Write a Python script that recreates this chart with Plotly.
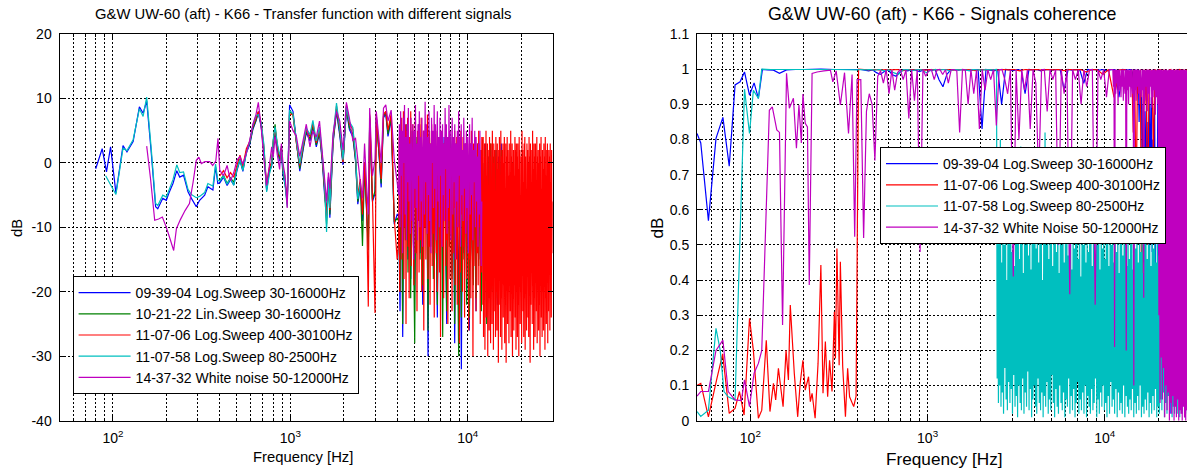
import numpy as np
import plotly.graph_objects as go

# ---------------- transfer function (left) ----------------
f_blue_lo = [80, 87, 92, 97, 104, 114, 120, 130, 141, 148, 155, 164, 174, 179, 191, 200, 208, 218, 229, 238,
             250, 265, 277, 295, 308, 329, 343, 366, 379, 390]
db_blue_lo = [-0.9, 2.2, -1.4, 2.5, -4.7, 2.7, 1.7, 3.3, 8.7, 7.7, 9.6, 2.0, -6.8, -7.1, -5.5, -5.8, -4.5, -3.2, -1.2, -2.2,
              -1.9, -4.5, -5.5, -6.8, -5.8, -5.0, -3.7, -4.2, -0.6, -3.2]

f_cyan_lo = [91, 97, 104, 114, 120, 130, 141, 148, 155, 164, 174, 179, 191, 200, 208, 218, 229, 238, 250, 265,
             277, 295, 308, 329, 343, 366, 379, 390]
db_cyan_lo = [-2.0, -3.4, -4.9, 2.3, 1.9, 3.6, 8.4, 7.2, 10.2, 2.6, -6.3, -6.6, -5.0, -5.3, -4.1, -2.6, -0.3, -1.5, -1.4, -4.1,
              -4.9, -5.4, -5.2, -4.6, -3.2, -3.6, -0.2, -2.7]

f_mag_lo = [155, 163, 172, 181, 190, 200, 210, 220, 228, 240, 255, 270, 283, 295, 305, 315, 330, 351, 365, 380, 391]
db_mag_lo = [2.6, -2.5, -8.9, -8.7, -8.4, -10.0, -11.8, -13.6, -10.2, -8.8, -7.4, -6.3, -3.0, 0.4, 0.9, -0.1, 0.2, 0.2,
             -0.4, 0.3, 3.8]

f_mid = [400, 420, 440, 460, 480, 500, 520, 540, 565, 590, 615, 640, 660, 685, 710, 735, 760, 785, 800, 820,
         845, 870, 890, 910, 935, 960, 990, 1035, 1080, 1130, 1180, 1230, 1290, 1340, 1400, 1460, 1520, 1560, 1600, 1640,
         1670, 1740, 1820, 1900, 1980, 2070, 2150, 2250, 2330, 2400, 2480, 2550, 2620, 2690, 2750, 2800, 2900, 3000, 3050, 3150,
         3250, 3350, 3450, 3550, 3700, 3850, 4000]

db_blue_mid = [-3.1, -2.2, -3.5, -2.6, -3.4, -1.2, 0.4, -1.3, 1.6, 2.8,
               5.2, 6.5, 7.8, 5.6, 1.5, -4.3, -1.4, -0.5, 2.8, 4.6,
               2.0, 0.3, 1.6, -2.0, -3.4, -6.0, 9.0, 8.0, 3.6, -1.3,
               2.0, 4.7, 3.4, 5.6, 2.5, 4.6, -0.4, -5.0, -7.6, -2.2,
               -8.5, 3.0, 8.0, 4.2, -0.3, 8.3, 5.2, 4.0, 0.3, -6.4,
               -3.5, -9.0, -0.8, -7.5, -13.0, 6.9, -6.0, -4.8, 7.2, 1.8,
               -3.8, 7.0, 7.6, 4.1, 6.8, -9.5, -8.0]
db_green_mid = [-2.8, -1.9, -3.2, -2.3, -3.0, -0.9, 0.6, -1.0, 1.8, 3.0,
                5.4, 6.6, 7.9, 5.8, 1.9, -4.0, -1.2, -0.2, 3.0, 6.0,
                2.3, 0.6, 2.6, -1.5, -3.2, -6.4, 8.0, 7.4, 3.3, -0.9,
                2.3, 4.9, 3.7, 5.9, 2.8, 4.9, 0.0, -4.4, -9.5, -2.7,
                -8.0, 3.2, 8.3, 4.6, 0.2, 8.7, 5.5, 4.5, 0.5, -6.0,
                -3.0, -12.9, -0.4, -7.2, -13.5, 7.2, -5.7, -4.4, 7.0, 2.0,
                -3.2, 7.3, 7.9, 4.5, 7.1, -9.2, -8.6]
db_red_mid = [-2.0, -1.2, -2.3, -1.5, -2.2, -0.4, 1.2, -0.5, 2.2, 3.3,
              5.7, 6.9, 8.0, 6.2, 2.3, -3.5, -0.8, 0.2, 3.3, 5.3,
              2.7, 1.0, 2.3, -1.0, -2.8, -6.0, 7.5, 7.6, 3.2, -0.4,
              2.6, 5.2, 4.1, 6.2, 3.1, 5.2, 0.3, -3.8, -8.6, -2.8,
              -7.3, 3.6, 8.8, 5.1, 0.1, 9.0, 6.1, 5.2, 1.0, -5.0,
              -2.5, -8.0, 0.1, -6.5, -22.3, 7.5, -5.0, -23.3, 7.5, 2.6,
              -2.5, 7.5, 8.0, 5.1, 7.6, -8.5, -15.0]
db_cyan_mid = [-2.8, -2.0, -3.3, -2.4, -3.5, -1.0, 0.5, -1.2, 1.5, 3.3,
               5.9, 7.3, 7.5, 6.3, 2.8, -4.5, -1.9, -0.3, 3.6, 5.6,
               3.0, 1.3, 2.0, -0.8, -3.6, -6.8, 8.2, 7.6, 3.6, -0.1,
               3.0, 5.4, 4.4, 6.6, 3.4, 5.6, 0.6, -3.4, -10.7, -2.5,
               -7.0, 4.0, 9.3, 5.3, 0.5, 8.7, 6.4, 5.5, 1.3, -5.6,
               -3.2]
db_mag_mid = [-1.1, -2.0, -0.4, -2.8, -1.5, 0.4, 1.0, -0.2, 1.5, 3.5,
              6.0, 7.5, 9.4, 5.5, 0.5, -3.5, -0.6, 2.5, 0.8, 4.0,
              1.2, -1.0, 3.0, -0.2, -2.0, -7.0, 6.5, 5.0, 4.2, 1.0,
              3.5, 6.0, 2.5, 5.0, 4.0, 6.5, 1.0, -2.5, -6.0, -1.5,
              -4.0, 4.5, 8.0, 6.5, 2.0, 9.4, 7.0, 3.5, 3.8, 0.5,
              -3.0, -5.5, 3.0, -3.5, -8.0, 8.5, -2.0, 0.5, 8.0, 4.0,
              0.0, 8.5, 9.0, 6.5, 8.2, 0.5, -3.0]

# 4 kHz and up
db_blue_hi = [-8, -23, 4, -27, 2, -10, 5, -15, 3, -18,
              4, -12, -20, 3, -8, 6, -14, 2, -22, 5,
              -6, 3, -30, 4, -11, 2, -16, 5, -9, -24,
              3, -13, 1, -19, 4, -7, -25, 2, -12, 3,
              -17, 1, -28, 3, -10, -21, 2, -32, 1, -14,
              3, -20, 0, -26, 2, -12, -18, 1, -23, 3,
              -15, 2, -21, 0, -11, 3, -24, 1, -16, 2,
              -19, 0, -13, 2, -22, 1, -9, 3, -17, -6]
db_green_hi = [-9, -20, 5, -25, 3, -12, 6, -17, 2, -21,
               5, -10, -28, 4, -9, 5, -15, 3, -19, 4,
               -7, 2, -26, 5, -13, 3, -18, 4, -10, -22,
               4, -14, 2, -27, 3, -8, -23, 1, -13, 4,
               -18, 2, -25, 3, -11, -30, 2, -24, 1, -15,
               2, -22, 1, -24, 3, -13, -19, 0, -21, 2,
               -16, 1, -23, 0, -12, 2, -25, 1, -17, 3,
               -20, 1, -14, 2, -21, 0, -10, 2, -18, -7]
# red 4-12 kHz (mostly under the white-noise curve)
db_red_hi = [-12, 4, -20, 6, -8, 7, -15, 3, -5, 8,
             -18, 2, -10, 6, -25, 5, -6, 7, -13, 1,
             -21, 4, -9, 8, -16, 2, -4, 6, -11, -19,
             3, -7, 7, -14, 0, -23, 5, -9, 4, -17,
             6, -3, -12, 7, -20, 2, -8, 5, -26, 1,
             -10, 6, -15, 4, -6, 7.5, -18, 0, -13, 5,
             -22, 3, -7, 6, -16, 1, -11, 4, -24, 2,
             -9, 5, -14, -2, -20, 3, -6, 4, -17, 0,
             -27, 2, -10, 5, -13, -1, -21, 3, -8, 4,
             -16, 1, -12, 3, -25, -2, -9, 4, -18, 2,
             -11, 0, -23, 3, -14, 2, -7, 5, -19, 1,
             -15, 4, -22, 2, -10, 3, -28, 1, -17, 5,
             -8, 2, -20, 4, -13, -1, -24, 3, -11, 2,
             -18, 4, -9, 1, -26, 3, -15, 0, -21, 5,
             -12, 2, -30, 3, -16, 1, -7, 4, -23, 0,
             -14, 3, -19, 5, -10, 1, -25, 2, -17, 4]
# red 12-30.1 kHz
db_red_top = [2, -22, 4, -27, -6, -18, 3, -29, 1, -16,
              5, -24, -2, -20, 3, -30, 2, -17, -7, -26,
              4, -21, 1, -28, 3, -15, -4, -25, 5, -19,
              0, -29, 3, -16, 2, -23, -8, -27, 4, -20,
              1, -26, 3, -18, -1, -31, 2, -22, 4, -15,
              -5, -27, 5, -21, 1, -29, 2, -17, 3, -24,
              0, -19, 4, -28, -4, -22, 3, -31, 1, -16,
              4, -25, 2, -20, -2, -28, 3, -18, -6, -23,
              5, -27, 1, -15, 3, -30, 0, -21, 2, -26,
              -2, -19, 4, -24, 2, -29, 3, -17, 1, -27,
              3, -22, -1, -30, 4, -18, 2, -25, -5, -20,
              1, -28, 5, -16, 2, -23, -3, -27, 3, -21,
              4, -29, 1, -19, -4, -26, 3, -15, 2, -24,
              0, -27, 4, -20, 1, -31, 3, -22, -3, -17,
              2, -25, 5, -18, -1, -29, 3, -21, 1, -27,
              3, -16, -5, -23, 4, -28, 1, -19, 2, -26,
              0, -22, 3, -30, 1, -17, 4, -24, -4, -27,
              2, -20, -1, -26, 3, -15, 1, -29, 4, -21,
              -2, -25, 2, -18, 3, -28, 0, -23, 2, -16,
              1, -26, 3, -20, -3, -24, 2, -14, -6, -10]
db_mag_hi = [-5, 6, -10, 8, -2, 5, -14, 7, 0, 9,
             -8, 4, -12, 6, -3, 8.5, -6, 3, -11, 7,
             1, -9, 6, -15, 5, -4, 9, -7, 3, -12,
             6, -2, 8, -10, 4, -6, 7, -13, 2, 5,
             -8, 9.5, -3, 6, -11, 4, -5, 8, -9, 3,
             -14, 7, 0, 5, -7, 9, -4, 6, -12, 2,
             8, -6, 4, -10, 7, -2, 5, -13, 6, -5,
             3, -9, 8.5, -1, 6, -11, 4, -7, 9, -4,
             5, -12, 2, 7, -8, 4, -3, 6, -15, 3,
             -6, 5, -10, 8, -2, 4, -13, 6, -5, 2,
             -9, 7, -4, 3, -11, 5, -7, 4, -14, 1,
             6, -8, 3, -5, 7, -12, 2, -3, 5, -10,
             4, -6, 1, -13, 3, -8, 5, -4, -16, -6]

# ---------------- coherence (right) ----------------
f_coh_blue_lo = [50, 52.5, 58, 64, 70, 76, 82, 87.5, 92.7, 98.9, 105, 111, 117, 125, 135, 146, 160, 180, 200, 250,
                 300, 350, 400]
coh_blue_lo = [0.817, 0.79, 0.569, 0.803, 0.863, 0.724, 0.955, 0.964, 0.992, 0.926, 0.961, 0.917, 0.999, 0.998, 0.997,
               0.988, 0.998, 0.999, 0.999, 1.0, 0.999, 0.999, 0.999]
coh_blue_mid = [0.999, 0.997, 0.995, 0.998, 0.99, 0.985, 0.993, 0.998, 0.985, 0.98,
                0.992, 0.998, 0.995, 0.999, 0.997, 0.993, 0.998, 0.999, 0.996, 0.999,
                0.97, 0.95, 0.985, 0.998, 0.999, 0.997, 0.999, 0.998, 0.995, 0.999,
                0.998, 0.83, 0.999, 0.997, 0.995, 0.998, 0.9, 0.999, 0.998, 0.996,
                0.999, 0.997, 0.93, 0.999, 0.998, 0.999, 0.995, 0.998, 0.999, 0.997,
                0.999, 0.998, 0.94, 0.999, 0.997, 0.999, 0.998, 0.96, 0.999, 0.998,
                0.999, 0.997, 0.999, 0.995, 0.999, 0.998, 0.92, 0.999, 0.997, 0.999]
coh_blue_hi = [0.999, 0.97, 0.995, 0.9, 0.999, 0.96, 0.998, 0.93, 0.999, 0.85,
               0.995, 0.97, 0.92, 0.55, 0.9, 0.45, 0.88, 0.6, 0.93, 0.5,
               0.85, 0.42, 0.9, 0.65, 0.92, 0.48, 0.8, 0.55, 0.91, 0.44,
               0.75, 0.6, 0.93, 0.4, 0.7, 0.2, 0.95, 0.1, 0.85, 0.3,
               0.98, 0.05, 0.9, 0.4, 0.97, 0.15, 0.8, 0.02, 0.99, 0.25,
               0.9, 0.08, 0.96, 0.35, 0.85, 0.03, 0.98, 0.2, 0.92, 0.12,
               0.99, 0.06, 0.88, 0.3, 0.97, 0.01, 0.94, 0.18, 0.99, 0.9]

f_coh_red_lo = [50.2, 52.5, 58, 64.5, 69.8, 76, 82, 86.8, 92.2, 98.9, 104, 111, 116, 123, 129, 135, 139, 144, 153, 159,
                164, 168, 177, 185, 191, 198, 204, 213, 218, 223, 232, 241, 250, 257, 265, 273, 280, 289, 298, 302,
                308, 317, 322, 332, 344, 354, 363, 383, 395]
coh_red_lo = [0.101, 0.106, 0.011, 0.116, 0.19, 0.021, 0.035, 0.083, 0.016, 0.291,
              0.2, 0.007, 0.03, 0.229, 0.026, 0.106, 0.059, 0.149, 0.04, 0.2,
              0.116, 0.329, 0.135, 0.011, 0.106, 0.172, 0.087, 0.125, 0.054, 0.078,
              0.007, 0.163, 0.443, 0.078, 0.225, 0.068, 0.172, 0.083, 0.31, 0.177,
              0.49, 0.158, 0.452, 0.154, 0.011, 0.149, 0.068, 0.04, 0.07]
coh_red_mid = [1.0, 0.999, 0.998, 0.999, 0.997, 0.999, 0.998, 0.999, 0.996, 0.999,
               0.998, 0.999, 0.997, 0.999, 0.998, 0.999, 0.999, 0.997, 0.999, 0.998,
               0.999, 0.996, 0.999, 0.998, 0.999, 0.997, 0.999, 0.998, 0.999, 0.995,
               0.999, 0.998, 0.999, 0.997, 0.999, 0.998, 0.999, 0.996, 0.999, 0.998,
               0.999, 0.992, 0.999, 0.998, 0.985, 0.999, 0.92, 0.998, 0.999, 0.97]
coh_red_hi = [0.999, 0.82, 0.998, 0.6, 0.999, 0.95, 0.999, 0.12, 0.998, 0.9,
              0.999, 0.5, 0.999, 0.97, 0.998, 0.75, 0.999, 0.995, 0.93, 0.999,
              0.998, 0.4, 0.999, 0.96, 0.999, 0.88, 0.998, 0.999, 0.7, 0.999,
              0.985, 0.999, 0.97, 0.999, 0.998, 0.99, 0.999, 0.96, 0.999, 0.98]

f_coh_cyan_lo = [50, 52.5, 58, 64, 67.6, 71, 75, 82, 92.7, 98.9, 104, 111, 116, 130, 150, 200, 300, 400]
coh_cyan_lo = [0.026, 0.012, 0.03, 0.263, 0.2, 0.083, 0.068, 0.059, 0.943, 0.817, 0.94, 0.917, 1.0, 0.999, 0.999,
               0.999, 0.999, 0.998]
coh_cyan_mid = [0.999, 0.998, 0.999, 0.997, 0.999, 0.995, 0.998, 0.99, 0.985, 0.998,
                0.999, 0.996, 0.999, 0.998, 0.99, 0.997, 0.999, 0.998, 0.999, 0.995,
                0.999, 0.998, 0.999, 0.996, 0.999, 0.998, 0.997, 0.999, 0.998, 0.999]
coh_cyan_hi = [0.12, 0.55, 0.05, 0.62, 0.1, 0.8, 0.04, 0.45, 0.08, 0.58,
               0.02, 0.5, 0.15, 0.66, 0.06, 0.4, 0.03, 0.6, 0.11, 0.52,
               0.05, 0.7, 0.09, 0.48, 0.02, 0.57, 0.13, 0.44, 0.04, 0.63,
               0.07, 0.51, 0.01, 0.59, 0.1, 0.46, 0.05, 0.78, 0.03, 0.54,
               0.12, 0.42, 0.02, 0.6, 0.08, 0.5, 0.04, 0.65, 0.14, 0.47,
               0.03, 0.56, 0.09, 0.43, 0.01, 0.61, 0.06, 0.52, 0.1, 0.68,
               0.04, 0.49, 0.02, 0.58, 0.12, 0.45, 0.05, 0.55, 0.03, 0.62,
               0.08, 0.4, 0.01, 0.53, 0.07, 0.82, 0.04, 0.5, 0.11, 0.57,
               0.02, 0.46, 0.06, 0.6, 0.03, 0.51, 0.13, 0.44, 0.05, 0.59,
               0.01, 0.54, 0.09, 0.48, 0.04, 0.64, 0.02, 0.42, 0.1, 0.56,
               0.05, 0.5, 0.03, 0.61, 0.08, 0.45, 0.01, 0.57, 0.06, 0.72,
               0.04, 0.47, 0.12, 0.53, 0.02, 0.6, 0.07, 0.43, 0.03, 0.55,
               0.09, 0.49, 0.01, 0.58, 0.05, 0.52, 0.11, 0.46, 0.02, 0.63,
               0.06, 0.41, 0.03, 0.56, 0.08, 0.5, 0.02, 0.6, 0.1, 0.45,
               0.01, 0.54, 0.07, 0.48, 0.04, 0.66, 0.02, 0.52, 0.09, 0.44,
               0.03, 0.59, 0.05, 0.47, 0.12, 0.55, 0.01, 0.5, 0.06, 0.62,
               0.02, 0.43, 0.08, 0.57, 0.04, 0.49, 0.1, 0.6, 0.03, 0.46,
               0.05, 0.53, 0.01, 0.58, 0.07, 0.44, 0.02, 0.56, 0.11, 0.5,
               0.04, 0.61, 0.06, 0.45, 0.02, 0.54, 0.09, 0.48, 0.01, 0.57,
               0.08, 0.42, 0.03, 0.6, 0.05, 0.51, 0.02, 0.47, 0.1, 0.55,
               0.01, 0.5, 0.07, 0.44, 0.04, 0.58, 0.02, 0.46, 0.06, 0.52,
               0.03, 0.57, 0.09, 0.43, 0.01, 0.55, 0.05, 0.49, 0.02, 0.6,
               0.07, 0.45, 0.03, 0.53, 0.1, 0.48, 0.01, 0.56, 0.04, 0.42,
               0.02, 0.51, 0.06, 0.59, 0.03, 0.46, 0.08, 0.54, 0.01, 0.5,
               0.05, 0.44, 0.02, 0.57, 0.07, 0.49, 0.03, 0.6, 0.09, 0.45,
               0.01, 0.53, 0.04, 0.47, 0.02, 0.55, 0.06, 0.42, 0.03, 0.51,
               0.08, 0.48, 0.01, 0.56, 0.05, 0.44, 0.02, 0.52, 0.07, 0.46,
               0.03, 0.5, 0.06, 0.41, 0.01, 0.54, 0.04, 0.47, 0.02, 0.49,
               0.05, 0.43, 0.02, 0.5, 0.07, 0.45, 0.01, 0.48, 0.04, 0.4,
               0.02, 0.46, 0.05, 0.42, 0.01, 0.44, 0.03, 0.38, 0.02, 0.35]

f_coh_mag_lo = [50, 52.5, 58, 64, 70, 75, 82, 89, 92.7, 98.9, 105, 111, 116, 128, 133, 141, 146, 152, 160, 166,
                175, 182, 188, 194, 198, 204, 210, 215, 223, 238, 260, 283, 292, 305, 322, 340, 358, 375, 388, 400]
coh_mag_lo = [0.07, 0.083, 0.083, 0.2, 0.229, 0.083, 0.059, 0.057, 0.116, 0.04,
              0.135, 0.163, 0.2, 0.883, 0.893, 0.827, 0.82, 0.272, 0.988, 0.889,
              0.917, 0.775, 0.898, 0.79, 0.929, 0.846, 0.836, 0.386, 0.988, 0.992,
              0.995, 0.997, 0.964, 0.995, 0.898, 0.99, 0.817, 0.985, 0.523, 0.97]
coh_mag_mid = [0.97, 0.52, 0.88, 0.93, 0.9, 0.74, 0.98, 0.995, 0.96, 0.999,
               0.93, 0.998, 0.94, 0.99, 0.999, 0.97, 0.998, 0.86, 0.999, 0.91,
               0.998, 0.48, 0.999, 0.98, 0.995, 0.999, 0.97, 0.998, 0.999, 0.985,
               0.999, 0.96, 0.998, 0.999, 0.995, 0.82, 0.999, 0.998, 0.9, 0.999,
               0.93, 0.998, 0.83, 0.999, 0.94, 0.998, 0.97, 0.999, 0.84, 0.998,
               0.999, 0.97, 0.93, 0.999, 0.41, 0.998, 0.8, 0.999, 0.94, 0.998,
               0.83, 0.999, 0.96, 0.68, 0.998, 0.999, 0.88, 0.999, 0.97, 0.998,
               0.5, 0.999, 0.93, 0.998, 0.36, 0.999, 0.97, 0.998, 0.9, 0.999,
               0.95, 0.998, 0.999, 0.33, 0.998, 0.97, 0.999, 0.92, 0.998, 0.999]
coh_mag_hi = [0.999, 0.95, 0.998, 0.21, 0.999, 0.93, 0.999, 0.96, 0.998, 0.9,
              0.999, 0.94, 0.998, 0.97, 0.92, 0.999, 0.95, 0.998, 0.91, 0.999,
              0.96, 0.93, 0.999, 0.2, 0.998, 0.94, 0.999, 0.9, 0.997, 0.95,
              0.999, 0.92, 0.998, 0.96, 0.93, 0.999, 0.1, 0.998, 0.94, 0.999,
              0.91, 0.998, 0.95, 0.999, 0.93, 0.997, 0.9, 0.999, 0.96, 0.92,
              0.999, 0.94, 0.998, 0.35, 0.999, 0.91, 0.997, 0.95, 0.999, 0.88,
              0.999, 0.93, 0.998, 0.9, 0.999, 0.95, 0.997, 0.89, 0.999, 0.92,
              0.998, 0.94, 0.999, 0.87, 0.997, 0.92, 0.999, 0.9, 0.998, 0.3,
              0.999, 0.05, 0.998, 0.18, 0.999, 0.06, 0.997, 0.15, 0.999, 0.01,
              0.998, 0.1, 0.999, 0.03, 0.997, 0.08, 0.999, 0.0, 0.998, 0.05,
              0.999, 0.02, 0.998, 0.07, 0.999, 0.0, 0.997, 0.04, 0.999, 0.01,
              0.998, 0.06, 0.999, 0.0, 0.997, 0.03, 0.999, 0.02, 0.998, 0.0,
              0.999, 0.04, 0.998, 0.01, 0.999, 0.0, 0.997, 0.03, 0.999, 0.02]

names_tf = ["09-39-04 Log.Sweep 30-16000Hz", "10-21-22 Lin.Sweep 30-16000Hz", "11-07-06 Log.Sweep 400-30100Hz",
            "11-07-58 Log.Sweep 80-2500Hz", "14-37-32 White noise 50-12000Hz"]
names_coh = ["09-39-04 Log.Sweep 30-16000Hz", "11-07-06 Log.Sweep 400-30100Hz",
             "11-07-58 Log.Sweep 80-2500Hz", "14-37-32 White Noise 50-12000Hz"]

BLUE, GREEN, RED, CYAN, MAG = "#0000FF", "#008000", "#FF0000", "#00BFBF", "#BF00BF"
FONT = "Liberation Sans, Arial, sans-serif"
W, H = 1187, 475


def join(*parts):
    return np.concatenate([np.asarray(p, dtype=float) for p in parts])


def gs(a, b, vals):
    return np.geomspace(a, b, len(vals))


fig = go.Figure()

# left traces
tf = [
    (join(f_blue_lo, f_mid, gs(4080, 16000, db_blue_hi)), join(db_blue_lo, db_blue_mid, db_blue_hi), BLUE),
    (join(f_mid, gs(4080, 16000, db_green_hi)), join(db_green_mid, db_green_hi), GREEN),
    (join(f_mid, gs(4080, 12000, db_red_hi), gs(12100, 30100, db_red_top)),
     join(db_red_mid, db_red_hi, db_red_top), RED),
    (join(f_cyan_lo, f_mid[:len(db_cyan_mid)]), join(db_cyan_lo, db_cyan_mid), CYAN),
    (join(f_mag_lo, f_mid, gs(4080, 12000, db_mag_hi)), join(db_mag_lo, db_mag_mid, db_mag_hi), MAG),
]
for (x, y, c), name in zip(tf, names_tf):
    fig.add_trace(go.Scatter(x=x, y=y, mode="lines", name=name, line=dict(color=c, width=1.2, simplify=False),
                             xaxis="x", yaxis="y", legend="legend"))

coh = [
    (join(f_coh_blue_lo, gs(420, 14000, coh_blue_mid), gs(14200, 29500, coh_blue_hi)),
     join(coh_blue_lo, coh_blue_mid, coh_blue_hi), BLUE),
    (join(f_coh_red_lo, gs(408, 14000, coh_red_mid), gs(14200, 29500, coh_red_hi)),
     join(coh_red_lo, coh_red_mid, coh_red_hi), RED),
    (join(f_coh_cyan_lo, gs(420, 2450, coh_cyan_mid), gs(2470, 29500, coh_cyan_hi)),
     join(coh_cyan_lo, coh_cyan_mid, coh_cyan_hi), CYAN),
    (join(f_coh_mag_lo, gs(420, 11000, coh_mag_mid), gs(11100, 29500, coh_mag_hi)),
     join(coh_mag_lo, coh_mag_mid, coh_mag_hi), MAG),
]
for (x, y, c), name in zip(coh, names_coh):
    fig.add_trace(go.Scatter(x=x, y=y, mode="lines", name=name, line=dict(color=c, width=1.2, simplify=False),
                             xaxis="x2", yaxis="y2", legend="legend2"))

minor_f = [m * 10 ** e for e in (1, 2, 3, 4) for m in range(2, 10) if 50 <= m * 10 ** e <= 30100]
grid = dict(showgrid=True, gridcolor="black", griddash="2px,2px", gridwidth=1)
common_x = dict(type="log", tickmode="array", tickvals=[100, 1000, 10000],
                ticktext=["10<sup>2</sup>", "10<sup>3</sup>", "10<sup>4</sup>"],
                ticks="inside", ticklen=5, tickcolor="black", showline=True, linecolor="black", linewidth=1,
                zeroline=False, tickfont=dict(size=14, color="black"), ticklabelstandoff=4, automargin=False,
                minor=dict(tickmode="array", tickvals=minor_f, ticks="inside", ticklen=3, tickcolor="black",
                           showgrid=True, gridcolor="black", griddash="2px,2px", gridwidth=1),
                **grid)
common_y = dict(ticks="inside", ticklen=5, tickcolor="black", showline=True, linecolor="black", linewidth=1,
                zeroline=False, tickfont=dict(size=14, color="black"), ticklabelstandoff=4, automargin=False,
                **grid)

ydom = [1 - 420.7 / H, 1 - 34 / H]
db_ticks = [-40, -30, -20, -10, 0, 10, 20]
coh_ticks = [0, 0.1, 0.2, 0.3, 0.4, 0.5, 0.6, 0.7, 0.8, 0.9, 1.0, 1.1]

fig.update_layout(
    width=W, height=H, margin=dict(l=0, r=0, t=0, b=0, pad=0, autoexpand=False),
    paper_bgcolor="white", plot_bgcolor="white",
    font=dict(family=FONT, color="black", size=14),
    showlegend=True,
    xaxis=dict(domain=[59.5 / W, 552.7 / W], range=[np.log10(50), np.log10(30100)], anchor="y",
               mirror="allticks", **common_x),
    yaxis=dict(domain=ydom, range=[-40, 20], anchor="x", tickmode="array", tickvals=db_ticks,
               ticktext=[str(v) for v in db_ticks], mirror="allticks", **common_y),
    xaxis2=dict(domain=[697 / W, 1.0], range=[np.log10(50), np.log10(29100)], anchor="y2",
                mirror="ticks", **common_x),
    yaxis2=dict(domain=ydom, range=[0, 1.1], anchor="x2", tickmode="array", tickvals=coh_ticks,
                ticktext=["0", "0.1", "0.2", "0.3", "0.4", "0.5", "0.6", "0.7", "0.8", "0.9", "1", "1.1"],
                mirror=False, **common_y),
    legend=dict(x=72.6 / W, y=1 - 276 / H, xanchor="left", yanchor="top", bgcolor="white",
                bordercolor="black", borderwidth=1, font=dict(size=14), itemwidth=52, tracegroupgap=0),
    legend2=dict(x=880 / W, y=1 - 147 / H, xanchor="left", yanchor="top", bgcolor="white",
                 bordercolor="black", borderwidth=1, font=dict(size=14), itemwidth=52, tracegroupgap=0),
)

ann = [
    (303 / W, 1 - 14 / H, "G&W UW-60 (aft) - K66 - Transfer function with different signals", 14.8, 0),
    (942 / W, 1 - 14 / H, "G&W UW-60 (aft) - K66 - Signals coherence", 17.8, 0),
    (303 / W, 1 - 457 / H, "Frequency [Hz]", 14.8, 0),
    (944 / W, 1 - 458.6 / H, "Frequency [Hz]", 17.2, 0),
    (17 / W, 1 - 228 / H, "dB", 14.8, -90),
    (656 / W, 1 - 228.5 / H, "dB", 17.2, -90),
]
for x, y, t, s, a in ann:
    fig.add_annotation(x=x, y=y, xref="paper", yref="paper", text=t, showarrow=False, textangle=a,
                       xanchor="center", yanchor="middle", font=dict(size=s, family=FONT, color="black"))

# page body has a default 8px margin; drop it so the figure sits at the window origin
fig.write_html("out.html", config={"displayModeBar": False},
               post_script="document.body.style.margin='0';document.body.style.overflow='hidden';")
